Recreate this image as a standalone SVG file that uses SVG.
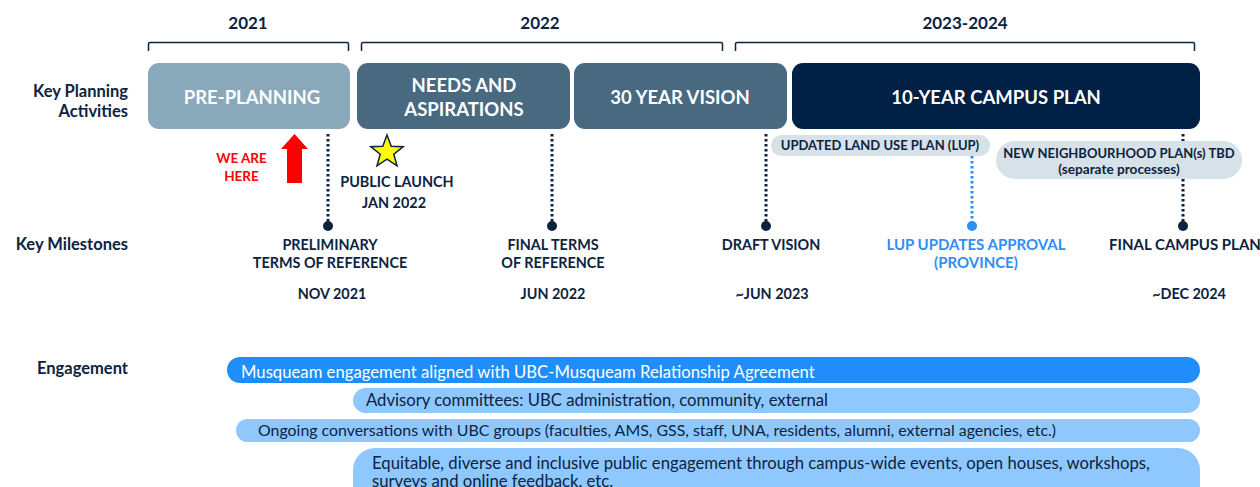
<svg xmlns="http://www.w3.org/2000/svg" width="1260" height="487" viewBox="0 0 1260 487">
<style>
.t{font-family:Lato,"Noto Sans",sans-serif;font-weight:700;fill:#0b2341}
.lbl{font-size:16.5px;text-anchor:end}
.yr{font-size:17px;text-anchor:middle}
.box{font-size:18.5px;fill:#fff;text-anchor:middle}
.ms{font-size:14.4px;text-anchor:middle}
.pill{font-size:13px;text-anchor:middle}
.eng{font-family:Lato,"Noto Sans",sans-serif;font-size:16.7px;fill:#0b2341}
.br{fill:none;stroke:#0b2341;stroke-width:1.5}
.dot{fill:none;stroke:#0b2341;stroke-width:3;stroke-dasharray:2.5 2.5}
</style>
<rect width="1260" height="487" fill="#fff"/>
<g id="labels">
<text class="t lbl" x="128" y="97">Key Planning</text>
<text class="t lbl" x="128" y="116.5">Activities</text>
<text class="t lbl" x="128" y="250">Key Milestones</text>
<text class="t lbl" x="128" y="374">Engagement</text>
</g>
<g id="years">
<text class="t yr" x="248" y="29">2021</text>
<path class="br" d="M148.5 51V44Q148.5 42.5 150 42.5H347Q348.5 42.5 348.5 44V51"/>
<text class="t yr" x="540" y="29">2022</text>
<path class="br" d="M361.5 51V44Q361.5 42.5 363 42.5H721Q722.5 42.5 722.5 44V51"/>
<text class="t yr" x="965" y="29">2023-2024</text>
<path class="br" d="M735.5 51V44Q735.5 42.5 737 42.5H1193Q1194.5 42.5 1194.5 44V51"/>
</g>
<g id="connectors">
<path class="dot" d="M328 134V222"/>
<path class="dot" d="M552 134V222"/>
<path class="dot" d="M766 134V222"/>
<path class="dot" d="M972 156V222" style="stroke:#2f8ef5"/>
<path class="dot" d="M1183 134V222"/>
<circle cx="328" cy="226" r="5" fill="#0b2341"/>
<circle cx="552" cy="226" r="5" fill="#0b2341"/>
<circle cx="766" cy="226" r="5" fill="#0b2341"/>
<circle cx="972" cy="226" r="5" fill="#2f8ef5"/>
<circle cx="1183" cy="226" r="5" fill="#0b2341"/>
</g>
<g id="pre-planning">
<rect x="148" y="63" width="202" height="66" rx="11" fill="#89a8ba"/>
<text class="t box" x="252" y="104">PRE-PLANNING</text>
</g>
<g id="needs">
<rect x="357" y="63" width="213" height="66" rx="11" fill="#48697f"/>
<text class="t box" x="464" y="92">NEEDS AND</text>
<text class="t box" x="464" y="116">ASPIRATIONS</text>
</g>
<g id="vision">
<rect x="574" y="63" width="213" height="66" rx="11" fill="#48697f"/>
<text class="t box" x="680" y="104">30 YEAR VISION</text>
</g>
<g id="campus-plan">
<rect x="792" y="63" width="408" height="66" rx="11" fill="#002145"/>
<text class="t box" x="996" y="104">10-YEAR CAMPUS PLAN</text>
</g>
<g id="lup-pill">
<rect x="771" y="135" width="219" height="21" rx="10.5" fill="#d6e1e8"/>
<text class="t pill" x="880" y="150">UPDATED LAND USE PLAN (LUP)</text>
</g>
<g id="neighbourhood-pill">
<rect x="996" y="141" width="246" height="38" rx="19" fill="#d6e1e8"/>
<text class="t pill" x="1119" y="158">NEW NEIGHBOURHOOD PLAN(s) TBD</text>
<text class="t pill" x="1119" y="173.5" style="font-size:13.6px">(separate processes)</text>
</g>
<g id="we-are-here">
<polygon points="294.5,134 308,149 302,149 302,183 287,183 287,149 281,149" fill="#ff0000"/>
<text class="t ms" x="241.5" y="163" style="fill:#ff0000;font-size:13.5px">WE ARE</text>
<text class="t ms" x="241.5" y="181" style="fill:#ff0000;font-size:13.5px">HERE</text>
</g>
<g id="public-launch">
<polygon points="387,135 391.2,146.3 403.2,146.7 393.8,154.2 397.0,165.8 387,159.1 377.0,165.8 380.2,154.2 370.8,146.7 382.8,146.3" fill="#ffff00" stroke="#0b2341" stroke-width="1.5" stroke-linejoin="miter"/>
<text class="t ms" x="397" y="187">PUBLIC LAUNCH</text>
<text class="t ms" x="394" y="208">JAN 2022</text>
</g>
<g id="ms-prelim">
<text class="t ms" x="330" y="250">PRELIMINARY</text>
<text class="t ms" x="330" y="268">TERMS OF REFERENCE</text>
<text class="t ms" x="332" y="299">NOV 2021</text>
</g>
<g id="ms-final-terms">
<text class="t ms" x="553" y="250">FINAL TERMS</text>
<text class="t ms" x="553" y="268">OF REFERENCE</text>
<text class="t ms" x="553" y="299">JUN 2022</text>
</g>
<g id="ms-draft">
<text class="t ms" x="771" y="250">DRAFT VISION</text>
<text class="t ms" x="772" y="299">~JUN 2023</text>
</g>
<g id="ms-lup">
<text class="t ms" x="976" y="250" style="fill:#2f8ef5;font-size:15px">LUP UPDATES APPROVAL</text>
<text class="t ms" x="976" y="268" style="fill:#2f8ef5;font-size:15px">(PROVINCE)</text>
</g>
<g id="ms-final-plan">
<text class="t ms" x="1185" y="250" style="font-size:15px">FINAL CAMPUS PLAN</text>
<text class="t ms" x="1189" y="299">~DEC 2024</text>
</g>
<g id="eng-musqueam">
<rect x="227" y="357" width="973" height="26" rx="13" fill="#1f8efa"/>
<text class="eng" x="241" y="378" style="fill:#fff">Musqueam engagement aligned with UBC-Musqueam Relationship Agreement</text>
</g>
<g id="eng-advisory">
<rect x="353" y="388" width="847" height="25" rx="12.5" fill="#8fc8ff"/>
<text class="eng" x="366" y="406">Advisory committees: UBC administration, community, external</text>
</g>
<g id="eng-ongoing">
<rect x="236" y="419" width="964" height="23" rx="11.5" fill="#8fc8ff"/>
<text class="eng" x="258" y="436" style="font-size:15.9px">Ongoing conversations with UBC groups (faculties, AMS, GSS, staff, UNA, residents, alumni, external agencies, etc.)</text>
</g>
<g id="eng-public">
<rect x="353" y="448" width="847" height="60" rx="22" fill="#8fc8ff"/>
<text class="eng" x="372" y="468.5">Equitable, diverse and inclusive public engagement through campus-wide events, open houses, workshops,</text>
<text class="eng" x="372" y="486.5">surveys and online feedback, etc.</text>
</g>
</svg>
